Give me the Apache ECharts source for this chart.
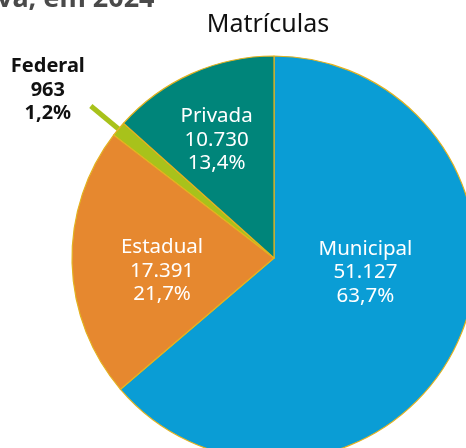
<!DOCTYPE html>
<html>
<head>
<meta charset="utf-8">
<script src="https://cdn.jsdelivr.net/npm/echarts@6/dist/echarts.min.js"></script>
<style>
  html, body { margin: 0; padding: 0; background: #fff; }
  #chart { width: 466px; height: 448px; }
</style>
</head>
<body>
<div id="chart"></div>
<script>
// matrículas por dependência administrativa
const categories = ["Municipal", "Estadual", "Federal", "Privada"];
const values = [51127, 17391, 963, 10730];
const colors = ["#0a9dd5", "#e6882f", "#a8c21b", "#00857a"];

// desloca os rótulos internos (px)
const labelShift = {
  Municipal: [-3, -29],
  Estadual: [-8, 10],
  Privada: [-15, -23],
};

const fmtNum = (n) => String(n).replace(/\B(?=(\d{3})+(?!\d))/g, ".");
const fmtPct = (p) => p.toFixed(1).replace(".", ",") + "%";

const myChart = echarts.init(document.getElementById("chart"));

const pieData = categories.map((name, i) => {
  const item = {
    name: name,
    value: values[i],
    itemStyle: { color: colors[i] },
  };
  if (name === "Federal") {
    item.label = {
      position: "outside",
      color: "#111",
      fontWeight: "bold",
      padding: [0, 0, 32, 0],
      formatter: (p) =>
        "{a|" + p.name + "}\n{a|" + fmtNum(p.value) + "}\n{a|" + fmtPct(p.percent) + "}",
      rich: {
        a: {
          width: 76,
          align: "center",
          fontSize: 20,
          fontWeight: "bold",
          color: "#111",
          lineHeight: 23.5,
          fontFamily: "Noto Sans",
        },
      },
    };
    item.labelLine = {
      show: true,
      length: 36,
      length2: 0,
      lineStyle: { color: colors[i], width: 5 },
    };
  }
  return item;
});

myChart.setOption({
  animation: false,
  title: {
    text: "Matrículas",
    left: 263,
    textAlign: "center",
    top: 7,
    textStyle: {
      fontFamily: "Noto Sans",
      fontWeight: "normal",
      fontSize: 25,
      color: "#111",
    },
  },
  graphic: [
    {
      type: "text",
      left: -3,
      top: -14,
      style: {
        text: "va, em 2024",
        font: "bold 27px 'Noto Sans'",
        fill: "#4a4a4a",
      },
    },
  ],
  series: [
    {
      type: "pie",
      center: [274, 258],
      radius: 202,
      startAngle: 90,
      clockwise: true,
      avoidLabelOverlap: false,
      itemStyle: { borderColor: "#e3b21f", borderWidth: 1.2 },
      label: {
        show: true,
        position: "inside",
        color: "#fff",
        fontFamily: "Noto Sans",
        fontSize: 20.5,
        lineHeight: 23.5,
        formatter: (p) => p.name + "\n" + fmtNum(p.value) + "\n" + fmtPct(p.percent),
      },
      labelLine: { show: false },
      labelLayout: (params) => {
        const s = labelShift[categories[params.dataIndex]];
        return s ? { dx: s[0], dy: s[1] } : {};
      },
      emphasis: { disabled: true },
      data: pieData,
    },
  ],
});
</script>
</body>
</html>
